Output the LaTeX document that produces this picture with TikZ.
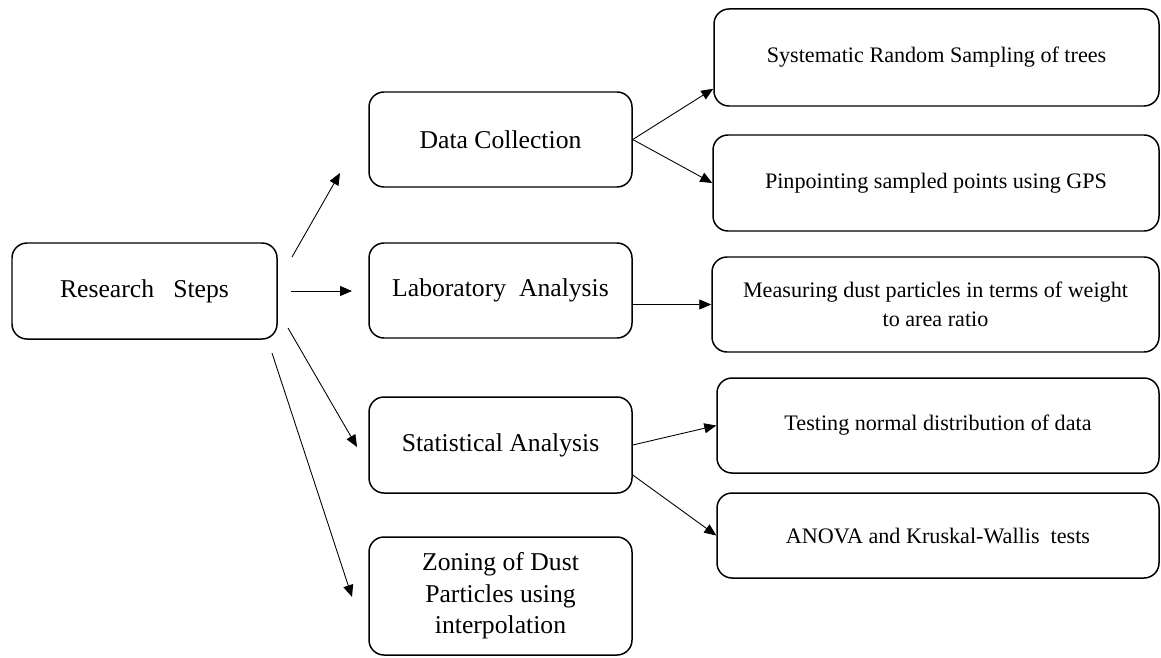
\documentclass[tikz,border=0pt]{standalone}
\usepackage{fontspec}
\setmainfont{Liberation Serif}
\usepackage{xcolor}
\usepackage{tikz}
\usetikzlibrary{arrows.meta,positioning,calc}
\definecolor{ink}{HTML}{000000}
\tikzset{
  >={Triangle[length=2.4mm,width=2mm]},
  stepbox/.style={draw=ink, rounded corners=3mm, fill=white, line width=.85pt,
    align=center, inner sep=1mm, font=\fontsize{14.6}{17.9}\selectfont},
  taskbox/.style={stepbox, font=\fontsize{12.6}{16.5}\selectfont},
  flow/.style={->, line width=.5pt, color=ink}
}
\begin{document}
\begin{tikzpicture}[x=1cm,y=1cm]
  \useasboundingbox (0,0) rectangle (23.22,-13.14);

  % main steps
  \node[stepbox,minimum width=5.3cm,minimum height=1.92cm] (rs) at (2.89,-5.82) {Research\ \ \ Steps};
  \node[stepbox,minimum width=5.26cm,minimum height=1.9cm] (dc) at (10.01,-2.79) {Data Collection};
  \node[stepbox,minimum width=5.26cm,minimum height=1.9cm] (la) at (10.01,-5.81) {Laboratory\ \ Analysis};
  \node[stepbox,minimum width=5.26cm,minimum height=1.92cm] (sa) at (10.01,-8.9) {Statistical Analysis};
  \node[stepbox,minimum width=5.26cm,minimum height=2.36cm] (zd) at (10.01,-11.92)
    {Zoning of Dust\\Particles using\\interpolation};

  % tasks
  \node[taskbox,minimum width=8.9cm,minimum height=1.94cm] (sy) at (18.73,-1.15) {Systematic Random Sampling of trees};
  \node[taskbox,minimum width=8.92cm,minimum height=1.92cm] (pp) at (18.72,-3.66) {Pinpointing sampled points using GPS};
  \node[taskbox,minimum width=8.94cm,minimum height=1.9cm] (me) at (18.71,-6.09)
    {Measuring dust particles in terms of weight\\to area ratio};
  \node[taskbox,minimum width=8.84cm,minimum height=1.9cm] (te) at (18.76,-8.51) {Testing normal distribution of data};
  \node[taskbox,minimum width=8.84cm,minimum height=1.7cm] (an) at (18.76,-10.71) {ANOVA and Kruskal-Wallis\ \ tests};

  % free arrow ends round the first box
  \coordinate (rs1) at (5.84,-5.14);  \coordinate (dc1) at (6.8,-3.46);
  \coordinate (rs2) at (5.82,-5.82);  \coordinate (la1) at (7.04,-5.82);
  \coordinate (rs3) at (5.76,-6.56);  \coordinate (sa1) at (7.14,-8.94);
  \coordinate (rs4) at (5.44,-7.06);  \coordinate (zd1) at (7.04,-11.94);
  \draw[flow] (rs1) -- (dc1);
  \draw[flow] (rs2) -- (la1);
  \draw[flow] (rs3) -- (sa1);
  \draw[flow] (rs4) -- (zd1);

  \coordinate (sy1) at ($(sy.south west)+(0,.36)$);
  \coordinate (sa2) at ($(sa.east)+(0,-.6)$);
  \draw[flow] (dc.east) -- (sy1);
  \draw[flow] (dc.east) -- (pp.west);
  \draw[flow] (la.east |- me.west) -- (me.west);
  \draw[flow] (sa.east) -- (te.west);
  \draw[flow] (sa2) -- (an.west);
\end{tikzpicture}
\end{document}
